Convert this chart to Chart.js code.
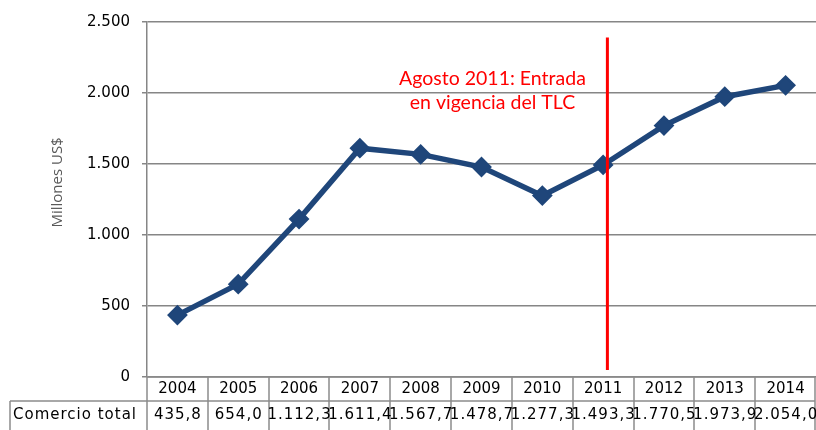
<!DOCTYPE html>
<html>
<head>
<meta charset="utf-8">
<script src="https://cdn.jsdelivr.net/npm/chart.js@4.4.1/dist/chart.umd.min.js"></script>
<style>
  html, body { margin: 0; padding: 0; background: #fff; overflow: hidden; }
  canvas { display: block; }
</style>
</head>
<body>
<canvas id="chart" width="816" height="430"></canvas>
<script>
(function () {
  // Datos: comercio total (millones US$)
  const years = ['2004', '2005', '2006', '2007', '2008', '2009', '2010', '2011', '2012', '2013', '2014'];
  const comercioTotal = [435.8, 654.0, 1112.3, 1611.4, 1567.7, 1478.7, 1277.3, 1493.3, 1770.5, 1973.9, 2054.0];
  const tableLabels = ['435,8', '654,0', '1.112,3', '1.611,4', '1.567,7', '1.478,7', '1.277,3', '1.493,3', '1.770,5', '1.973,9', '2.054,0'];
  const rowTitle = 'Comercio total';
  const yTitle = 'Millones US$';
  const yTicks = [0, 500, 1000, 1500, 2000, 2500];

  // Anotación: entrada en vigencia del TLC (agosto 2011)
  const tlcIndex = 7.07;
  const tlcRange = [50, 2390];
  const noteLines = ['Agosto 2011: Entrada', 'en vigencia del TLC'];
  const noteIndex = 5.18;
  const noteValues = [2099, 1930];

  const gridColor = '#868686';
  const lineColor = '#1F467A';

  function fmt(v) {
    return v.toLocaleString('de-DE');
  }

  // Tabla de datos, título del eje y línea roja
  const extrasPlugin = {
    id: 'extras',
    afterDatasetsDraw(chart) {
      const ctx = chart.ctx;
      const x = chart.scales.x;
      const y = chart.scales.y;
      ctx.save();
      // línea vertical roja
      const lx = x.getPixelForValue(tlcIndex);
      ctx.strokeStyle = '#FF0000';
      ctx.lineWidth = 3;
      ctx.beginPath();
      ctx.moveTo(lx, y.getPixelForValue(tlcRange[1]));
      ctx.lineTo(lx, y.getPixelForValue(tlcRange[0]));
      ctx.stroke();
      // texto rojo
      ctx.fillStyle = '#FF0000';
      ctx.font = '19.5px Lato, "Open Sans", sans-serif';
      ctx.textAlign = 'center';
      ctx.textBaseline = 'middle';
      const nx = x.getPixelForValue(noteIndex);
      noteLines.forEach((t, i) => ctx.fillText(t, nx, y.getPixelForValue(noteValues[i])));
      // título del eje Y
      ctx.save();
      ctx.translate(58, y.getPixelForValue(1370));
      ctx.rotate(-Math.PI / 2);
      ctx.fillStyle = '#595959';
      ctx.font = '15px "Open Sans", sans-serif';
      ctx.fillText(yTitle, 0, 0);
      ctx.restore();
      ctx.restore();
    },
    afterDraw(chart) {
      const ctx = chart.ctx;
      const x = chart.scales.x;
      const area = chart.chartArea;
      const top = area.bottom;
      const row1 = top + 23;
      const row2 = top + 60;
      const left = x.getPixelForValue(-0.5);
      const right = x.getPixelForValue(years.length - 0.5) - 1;
      ctx.save();
      ctx.strokeStyle = '#8C8C8C';
      ctx.lineWidth = 1.5;
      ctx.beginPath();
      // horizontales
      ctx.moveTo(left, top); ctx.lineTo(right, top);
      ctx.moveTo(10, row1 + 1); ctx.lineTo(right, row1 + 1);
      // verticales
      ctx.moveTo(10, row1 + 1); ctx.lineTo(10, row2);
      for (let i = 0; i <= years.length; i++) {
        const px = Math.min(right, Math.round(x.getPixelForValue(i - 0.5)));
        ctx.moveTo(px, top); ctx.lineTo(px, row2);
      }
      ctx.stroke();

      ctx.fillStyle = '#000';
      ctx.font = '15px "DejaVu Sans", sans-serif';
      ctx.textBaseline = 'middle';
      ctx.textAlign = 'center';
      years.forEach((yr, i) => {
        ctx.fillText(yr, x.getPixelForValue(i), top + 12);
      });
      ctx.letterSpacing = '1px';
      tableLabels.forEach((lbl, i) => {
        ctx.fillText(lbl, x.getPixelForValue(i) + 0.5, row1 + 15);
      });
      ctx.textAlign = 'left';
      ctx.fillText(rowTitle, 13, row1 + 15);
      ctx.restore();
    }
  };

  const ctx = document.getElementById('chart').getContext('2d');
  new Chart(ctx, {
    type: 'line',
    data: {
      labels: years,
      datasets: [{
        label: rowTitle,
        data: comercioTotal,
        borderColor: lineColor,
        backgroundColor: lineColor,
        borderWidth: 5.5,
        tension: 0,
        pointStyle: 'rectRot',
        pointRadius: 9,
        pointBorderWidth: 2,
        pointBackgroundColor: lineColor,
        pointBorderColor: lineColor
      }]
    },
    options: {
      responsive: false,
      animation: false,
      layout: { autoPadding: false, padding: { top: 22, right: 0, bottom: 53, left: 45 } },
      plugins: {
        legend: { display: false },
        tooltip: { enabled: false }
      },
      scales: {
        x: {
          display: false,
          offset: true
        },
        y: {
          min: 0,
          max: 2500,
          afterFit(scale) { scale.width = 102; },
          afterBuildTicks(scale) { scale.ticks = yTicks.map(v => ({ value: v })); },
          border: { display: true, color: gridColor, width: 1.5 },
          grid: { color: gridColor, lineWidth: 1.5, tickLength: 5, drawTicks: true },
          ticks: {
            color: '#000',
            padding: 12,
            font: { family: '"DejaVu Sans", sans-serif', size: 15 },
            callback: v => fmt(v)
          },
          title: { display: false }
        }
      }
    },
    plugins: [extrasPlugin]
  });
})();
</script>
</body>
</html>
